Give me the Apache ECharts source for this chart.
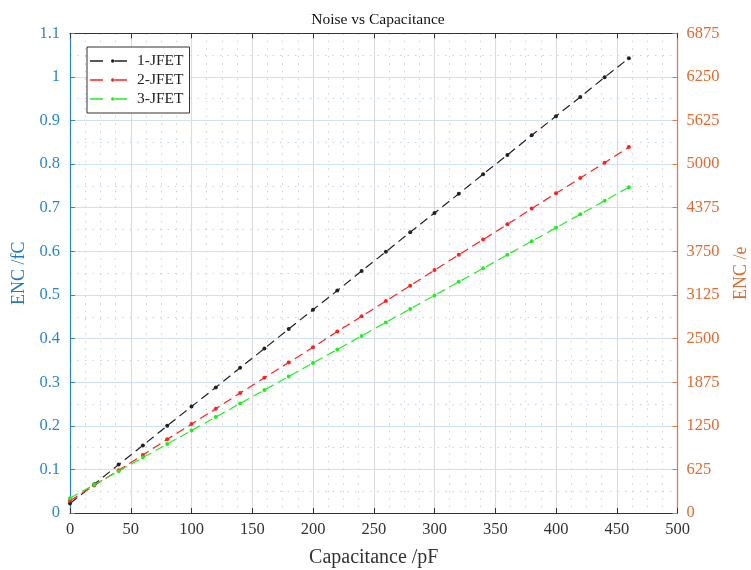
<!DOCTYPE html>
<html>
<head>
<meta charset="utf-8">
<script src="https://cdn.jsdelivr.net/npm/echarts@6/dist/echarts.min.js"></script>
<style>html,body{margin:0;padding:0;background:#fff;}#c{width:751px;height:570px;}</style>
</head>
<body>
<div id="c"></div>
<script>
var capacitance = [0,20,40,60,80,100,120,140,160,180,200,220,240,260,280,300,320,340,360,380,400,420,440,460];
var jfet1 = [0.022,0.066,0.111,0.155,0.200,0.244,0.288,0.333,0.377,0.422,0.466,0.510,0.555,0.599,0.644,0.688,0.732,0.777,0.821,0.866,0.910,0.954,0.999,1.043];
var jfet2 = [0.028,0.063,0.098,0.133,0.169,0.204,0.239,0.275,0.310,0.345,0.380,0.416,0.451,0.486,0.521,0.557,0.592,0.627,0.662,0.698,0.733,0.768,0.803,0.839];
var jfet3 = [0.034,0.065,0.096,0.127,0.158,0.189,0.220,0.251,0.282,0.313,0.344,0.375,0.406,0.437,0.468,0.499,0.530,0.561,0.592,0.623,0.654,0.685,0.716,0.747];
var seriesNames = ['1-JFET','2-JFET','3-JFET'];
var seriesColors = ['#222222','#ff2020','#22ee22'];
var seriesData = [jfet1, jfet2, jfet3];

var FONT = 'Liberation Serif';
var LEGEND_ICON = 'path://M0,1h13v1.4h-13z M21,1.7a1.7,1.7 0 1,0 3.4,0a1.7,1.7 0 1,0 -3.4,0z M24,1h13v1.4h-13z';
var chart = echarts.init(document.getElementById('c'), null, {renderer:'canvas'});
function pairs(arr){ return capacitance.map(function(c,i){ return [c, arr[i]]; }); }
var series = seriesData.map(function(d, i){
  return {
    name: seriesNames[i], type: 'line', data: pairs(d), xAxisIndex: 0, yAxisIndex: 0,
    symbol: 'circle', symbolSize: 4, showSymbol: true,
    lineStyle: {color: seriesColors[i], width: 1.2, type: [9,5]},
    itemStyle: {color: seriesColors[i]},
    animation: false
  };
});
chart.setOption({
  backgroundColor: '#fff',
  animation: false,
  title: {text: 'Noise vs Capacitance', left: 373, textAlign: 'center', top: 7,
    textStyle: {fontFamily: FONT, fontSize: 15.5, fontWeight: 'normal', color: '#111'}},
  grid: {left: 70, right: 73.5, top: 33.3, bottom: 57, outerBoundsMode: 'none', containLabel: false},
  legend: {
    orient: 'vertical', left: 87, top: 47, padding: [6, 6, 6, 3],
    itemGap: 3, itemWidth: 37, itemHeight: 15, symbolKeepAspect: true,
    icon: LEGEND_ICON,
    borderColor: '#333', borderWidth: 1, backgroundColor: '#fff', borderRadius: 0,
    textStyle: {fontFamily: FONT, fontSize: 15.5, color: '#222', padding: [0,0,0,5]},
    data: seriesNames
  },
  xAxis: [{
    type: 'value', min: 0, max: 500, interval: 50, position: 'bottom',
    name: 'Capacitance /pF', nameLocation: 'middle', nameGap: 35,
    nameTextStyle: {fontFamily: FONT, fontSize: 20, color: '#333'},
    axisLine: {show: true, onZero: false, lineStyle: {color: '#333', width: 1}},
    axisTick: {show: true, inside: true, length: 5, lineStyle: {color: '#333'}},
    axisLabel: {fontFamily: FONT, fontSize: 16.5, color: '#333', margin: 8},
    splitLine: {show: true, lineStyle: {color: '#dcdcdc', width: 1.2}},
    minorTick: {show: true, splitNumber: 4, length: 0},
    minorSplitLine: {show: true, lineStyle: {color: '#cfcfcf', type: [1.5, 6], width: 1}}
  }, {
    type: 'value', min: 0, max: 500, interval: 50, position: 'top',
    axisLine: {show: true, onZero: false, lineStyle: {color: '#333', width: 1}},
    axisTick: {show: true, inside: true, length: 5, lineStyle: {color: '#333'}},
    axisLabel: {show: false}, splitLine: {show: false}
  }],
  yAxis: [{
    type: 'value', min: 0, max: 1.1, interval: 0.1, position: 'left',
    name: 'ENC /fC', nameLocation: 'middle', nameGap: 41, nameRotate: 90,
    nameTextStyle: {fontFamily: FONT, fontSize: 18, color: '#1f78c1'},
    axisLine: {show: true, onZero: false, lineStyle: {color: '#2b86cc', width: 1.2}},
    axisTick: {show: true, inside: true, length: 5, lineStyle: {color: '#2b86cc'}},
    axisLabel: {fontFamily: FONT, fontSize: 16.5, color: '#2b86cc', margin: 10,
      formatter: function(v){ return String(Math.round(v*10)/10); }},
    splitLine: {show: true, lineStyle: {color: '#cfe2f3', width: 1.2}},
    minorTick: {show: true, splitNumber: 2, length: 0},
    minorSplitLine: {show: true, lineStyle: {color: '#b8d6ef', type: [1.5, 6], width: 1}}
  }, {
    type: 'value', min: 0, max: 6875, interval: 625, position: 'right',
    name: 'ENC /e', nameLocation: 'middle', nameGap: 55, nameRotate: 90,
    nameTextStyle: {fontFamily: FONT, fontSize: 18, color: '#e06a30'},
    axisLine: {show: true, onZero: false, lineStyle: {color: '#e07a45', width: 1.2}},
    axisTick: {show: true, inside: true, length: 5, lineStyle: {color: '#e07a45'}},
    axisLabel: {fontFamily: FONT, fontSize: 16.5, color: '#e06a30', margin: 9,
      formatter: function(v){ return String(v); }},
    splitLine: {show: false}
  }],
  series: series
});
</script>
</body>
</html>
